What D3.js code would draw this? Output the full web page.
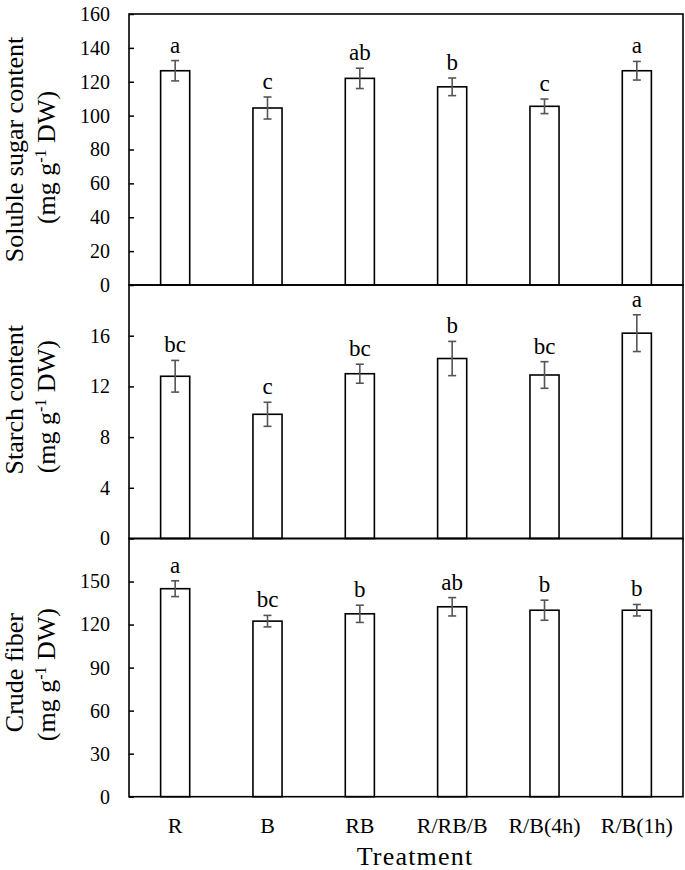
<!DOCTYPE html>
<html>
<head>
<meta charset="utf-8">
<script src="https://cdn.jsdelivr.net/npm/d3@7"></script>
<style>
  html, body { margin: 0; padding: 0; background: #fff; }
  svg { display: block; }
  text { font-family: "Liberation Serif", "Times New Roman", serif; fill: #000; }
</style>
</head>
<body>
<svg id="chart" width="685" height="870"></svg>
<script>
// ---------- data ----------
const categories = ["R", "B", "RB", "R/RB/B", "R/B(4h)", "R/B(1h)"];

const sugarValues  = [126.5, 104.5, 122.0, 117.0, 105.5, 126.5];
const sugarErrors  = [6.0, 6.5, 6.0, 5.2, 4.3, 5.5];
const sugarLetters = ["a", "c", "ab", "b", "c", "a"];
const sugarTicks   = [0, 20, 40, 60, 80, 100, 120, 140, 160];

const starchValues  = [12.8, 9.8, 13.0, 14.2, 12.9, 16.2];
const starchErrors  = [1.25, 0.95, 0.75, 1.35, 1.05, 1.45];
const starchLetters = ["bc", "c", "bc", "b", "bc", "a"];
const starchTicks   = [0, 4, 8, 12, 16];

const fiberValues  = [145.0, 122.4, 127.5, 132.4, 130.0, 130.0];
const fiberErrors  = [5.5, 4.0, 6.0, 6.4, 7.0, 4.0];
const fiberLetters = ["a", "bc", "b", "ab", "b", "b"];
const fiberTicks   = [0, 30, 60, 90, 120, 150];

const xTitle = "Treatment";

// ---------- layout ----------
const svg = d3.select("#chart");
const left = 129, right = 683;

const panels = [
  { top: 14,    bottom: 285,   max: 160, values: sugarValues,  errors: sugarErrors,  letters: sugarLetters,  ticks: sugarTicks,
    line1: "Soluble sugar content", off1: 0, off2: 8 },
  { top: 285,   bottom: 538.5, max: 20,  values: starchValues, errors: starchErrors, letters: starchLetters, ticks: starchTicks,
    line1: "Starch content", off1: -12, off2: -5 },
  { top: 538.5, bottom: 796.7, max: 180, values: fiberValues,  errors: fiberErrors,  letters: fiberLetters,  ticks: fiberTicks,
    line1: "Crude fiber", off1: 5, off2: 7 }
];

const x = d3.scaleBand().domain(categories).range([left, right]).paddingInner(0.685).paddingOuter(0.3425);

panels.forEach((p, pi) => {
  const y = d3.scaleLinear().domain([0, p.max]).range([p.bottom, p.top]);
  const g = svg.append("g");

  // bars
  g.selectAll("rect.bar").data(categories).join("rect")
    .attr("class", "bar")
    .attr("x", d => x(d))
    .attr("y", (d, i) => y(p.values[i]))
    .attr("width", x.bandwidth())
    .attr("height", (d, i) => y(0) - y(p.values[i]))
    .attr("fill", "#fff")
    .attr("stroke", "#000")
    .attr("stroke-width", 1.6);

  // error bars
  const eb = g.selectAll("g.err").data(categories).join("g").attr("class", "err");
  const cx = d => x(d) + x.bandwidth() / 2;
  eb.append("line")
    .attr("x1", cx).attr("x2", cx)
    .attr("y1", (d, i) => y(p.values[i] + p.errors[i]))
    .attr("y2", (d, i) => y(p.values[i] - p.errors[i]));
  eb.append("line")
    .attr("x1", d => cx(d) - 4).attr("x2", d => cx(d) + 4)
    .attr("y1", (d, i) => y(p.values[i] + p.errors[i]))
    .attr("y2", (d, i) => y(p.values[i] + p.errors[i]));
  eb.append("line")
    .attr("x1", d => cx(d) - 4).attr("x2", d => cx(d) + 4)
    .attr("y1", (d, i) => y(p.values[i] - p.errors[i]))
    .attr("y2", (d, i) => y(p.values[i] - p.errors[i]));
  eb.selectAll("line").attr("stroke", "#555").attr("stroke-width", 1.6);

  // significance letters
  g.selectAll("text.sig").data(categories).join("text")
    .attr("class", "sig")
    .attr("x", cx)
    .attr("y", (d, i) => y(p.values[i] + p.errors[i]) - 8)
    .attr("text-anchor", "middle")
    .style("font-size", "23px")
    .text((d, i) => p.letters[i]);

  // y axis
  const ax = g.append("g")
    .attr("transform", `translate(${left},0)`)
    .call(d3.axisLeft(y).tickValues(p.ticks).tickSize(-5).tickPadding(19).tickFormat(d3.format("d")));
  ax.attr("font-family", null);
  ax.select(".domain").remove();
  ax.selectAll(".tick line").attr("stroke", "#000").attr("stroke-width", 1.5);
  ax.selectAll(".tick text")
    .style("font-family", "'Liberation Serif', 'Times New Roman', serif")
    .style("font-size", "20px")
    .attr("fill", "#000");

  // frame
  g.append("rect")
    .attr("x", left).attr("y", p.top)
    .attr("width", right - left).attr("height", p.bottom - p.top)
    .attr("fill", "none").attr("stroke", "#000").attr("stroke-width", 1.6);

  // y title
  const cy = (p.top + p.bottom) / 2;
  svg.append("text")
    .attr("transform", `translate(23,${cy + p.off1}) rotate(-90)`)
    .attr("text-anchor", "middle")
    .style("font-size", "26px")
    .text(p.line1);
  const t2 = svg.append("text")
    .attr("transform", `translate(55,${cy + p.off2}) rotate(-90)`)
    .attr("text-anchor", "middle")
    .style("font-size", "26px");
  t2.append("tspan").text("(mg g");
  t2.append("tspan").attr("dy", -9).style("font-size", "16px").text("-1");
  t2.append("tspan").attr("dy", 9).text(" DW)");
});

// x axis labels (bottom panel)
const xAxis = svg.append("g")
  .attr("transform", `translate(0,${panels[2].bottom})`)
  .call(d3.axisBottom(x).tickSize(0).tickPadding(21));
xAxis.attr("font-family", null);
xAxis.select(".domain").remove();
xAxis.selectAll(".tick text")
  .style("font-family", "'Liberation Serif', 'Times New Roman', serif")
  .style("font-size", "22px")
  .attr("fill", "#000");

svg.append("text")
  .attr("x", 415).attr("y", 865)
  .attr("text-anchor", "middle")
  .style("font-size", "26px")
  .style("letter-spacing", "1.2px")
  .text(xTitle);
</script>
</body>
</html>
